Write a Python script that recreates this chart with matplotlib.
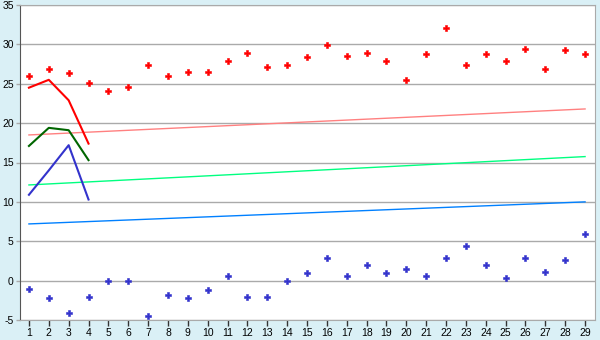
import matplotlib.pyplot as plt

plt.rcParams['font.family'] = ['Liberation Sans', 'DejaVu Sans']
plt.rcParams['axes.unicode_minus'] = False

days = list(range(1, 30))

high_pts = [26.0, 26.9, 26.4, 25.1, 24.1, 24.6, 27.4, 26.0, 26.5, 26.5,
            27.9, 28.9, 27.1, 27.4, 28.4, 29.9, 28.5, 28.9, 27.9, 25.5,
            28.8, 32.1, 27.4, 28.8, 27.9, 29.4, 26.9, 29.3, 28.8]
low_pts = [-1.05, -2.2, -4.1, -2.05, 0.0, 0.0, -4.5, -1.8, -2.2, -1.2,
           0.6, -2.1, -2.1, 0.0, 1.0, 2.9, 0.6, 2.0, 1.0, 1.5,
           0.6, 2.9, 4.4, 2.0, 0.35, 2.9, 1.1, 2.6, 5.9]

line_days = [1, 2, 3, 4]
red_line = [24.5, 25.5, 22.9, 17.4]
green_line = [17.1, 19.4, 19.1, 15.3]
blue_line = [10.9, 14.0, 17.2, 10.3]

trend_days = [1, 29]
red_trend = [18.5, 21.8]
green_trend = [12.15, 15.75]
blue_trend = [7.2, 10.0]

fig = plt.figure(figsize=(6, 3.4), dpi=100, facecolor='#daf0f6')
ax = fig.add_axes([20/600, 20/340, 575/600, 315/340])
ax.set_facecolor('white')

# trend lines
ax.plot(trend_days, red_trend, color='#ff8080', linewidth=1)
ax.plot(trend_days, green_trend, color='#00ff80', linewidth=1)
ax.plot(trend_days, blue_trend, color='#0080ff', linewidth=1)

# short lines
ax.plot(line_days, red_line, color='#ff0000', linewidth=1.5)
ax.plot(line_days, green_line, color='#006600', linewidth=1.5)
ax.plot(line_days, blue_line, color='#3333cc', linewidth=1.5)

# points
ax.plot(days, high_pts, linestyle='none', marker='P', markersize=4.5,
        color='#ff0000', markeredgewidth=0.4)
ax.plot(days, low_pts, linestyle='none', marker='P', markersize=4.5,
        color='#3333cc', markeredgewidth=0.4)

ax.set_xlim(0.55, 29.5)
ax.set_ylim(-5, 35)
ax.set_xticks(days)
ax.set_yticks(range(-5, 36, 5))
ax.grid(axis='y', color='#aaaaaa', linewidth=1)
ax.set_axisbelow(True)
ax.tick_params(labelsize=7.5, length=4, width=1, color='#333333', pad=1.5)
ax.tick_params(axis='y', color='#aaaaaa', length=3)

for side in ['top', 'right']:
    ax.spines[side].set_color('#aaaaaa')
ax.spines['left'].set_color('#555555')
ax.spines['bottom'].set_color('#aaaaaa')

fig.savefig('out.png', dpi=100, facecolor=fig.get_facecolor())
